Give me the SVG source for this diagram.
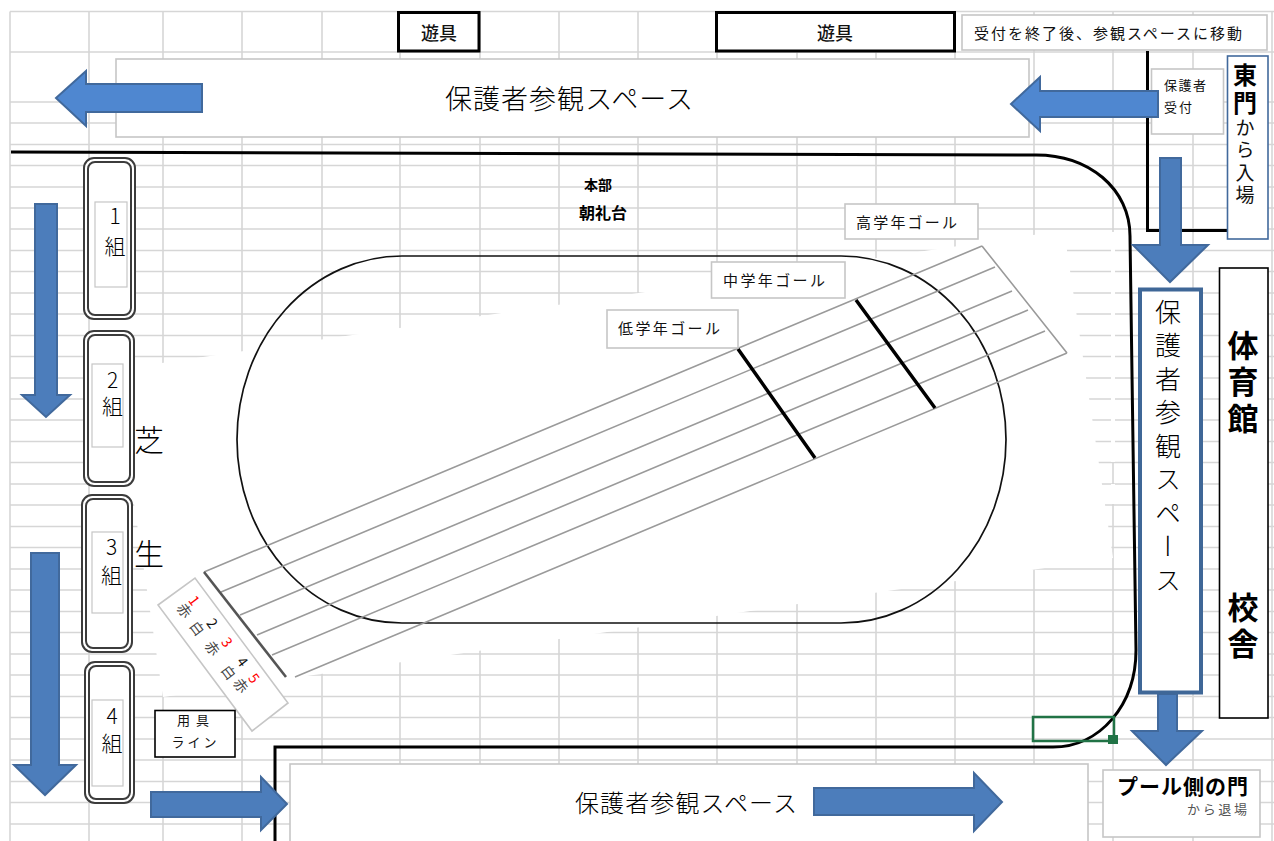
<svg xmlns="http://www.w3.org/2000/svg" width="1274" height="841" viewBox="0 0 1274 841">
<style>
text{font-family:"Noto Sans CJK JP","Noto Sans",sans-serif;fill:#111;dominant-baseline:central}
.m{text-anchor:middle}
.b{font-weight:700;fill:#000}
.t{font-weight:300;fill:#000}
.v{writing-mode:vertical-rl;text-anchor:start}
.u{text-orientation:upright}
.grid{stroke:#d6d6d6;stroke-width:1.6;fill:none}
.lb{fill:#fff;stroke:#c6c6c6;stroke-width:1.6}
.bk{fill:#fff;stroke:#000}
.ar{fill:#4c7dbb;stroke:#41699c;stroke-width:2}
.ar2{fill:#4f87d0;stroke:#41699c;stroke-width:2}
.oc{fill:#fff;stroke:#3c3c3c;stroke-width:2}
.ic{fill:none;stroke:#3c3c3c;stroke-width:2}
.road{fill:none;stroke:#000;stroke-width:3}
.lane{stroke:#9a9a9a;stroke-width:1.6;fill:none}
.goal{stroke:#000;stroke-width:3.5;fill:none}
.ln{font-size:14px;text-anchor:middle}
.rd{fill:#f00}
.gy{fill:#444}
</style>
<rect width="1274" height="841" fill="#fff"/>
<path id="grid" class="grid" d="M10 11.5H1274M10 52H1274M10 102H1274M10 123H1274M10 144.5H1274M10 165.5H1274M10 187H1274M10 208H1274M10 229H1274M10 250.5H1274M10 271.5H1274M10 293H1274M10 314H1274M10 335.5H1274M10 356.5H1274M10 378H1274M10 399H1274M10 420H1274M10 441.5H1274M10 462.5H1274M10 484H1274M10 505H1274M10 526.5H1274M10 547.5H1274M10 569H1274M10 590H1274M10 611.5H1274M10 632.5H1274M10 654H1274M10 675H1274M10 696.5H1274M10 717.5H1274M10 739H1274M10 760H1274M10 781.5H1274M10 802.5H1274M10 824H1274M10 11.5V841M89 11.5V841M163 11.5V841M242 11.5V841M322 11.5V841M400 11.5V841M480 11.5V841M559 11.5V841M638 11.5V841M717 11.5V841M797 11.5V841M876 11.5V841M955 11.5V841M1034 11.5V841M1113 11.5V841M1193 11.5V841M1272 11.5V841"/>
<g id="mask" fill="#fff">
<polygon points="114,370 1064,230.5 1113,558 163,697"/>
<rect x="1111" y="232" width="4" height="230"/>
<rect x="1111" y="484" width="4" height="20"/>
</g>
<g id="track">
<rect x="237" y="256" width="769" height="367" rx="165" ry="183.5" fill="none" stroke="#111" stroke-width="1.7"/>
<path class="lane" d="M204 572L982 246M221 592L995 267M240 615L1012 291M257 635L1028 310M272 655L1045 331M295 677L1067 353M982 246L1067 353"/>
<path d="M204 572L286 677" fill="none" stroke="#555" stroke-width="2.6"/>
<path class="goal" d="M738 349L815 458M856 300L935 408"/>
</g>
<g id="connectors">
<path class="road" d="M11 152L1031 155C1090 153 1130 190 1130 236L1136 650C1136 705 1100 747 1053 747L275 747V841"/>
<path class="road" d="M1147.500 51V230.500H1228"/>
</g>
<g id="space-top"><rect class="lb" x="116" y="59" width="913" height="78"/><text class="m t" x="569" y="97" font-size="27" textLength="248">保護者参観スペース</text></g>
<g id="space-bottom"><rect class="lb" x="290" y="764" width="798" height="80"/><text class="m t" x="686" y="801" font-size="24" textLength="222">保護者参観スペース</text></g>
<g id="playground-1"><rect class="bk" x="398.500" y="12.500" width="80.500" height="38.500" stroke-width="3"/><text class="m" x="439" y="32" font-size="18" style="font-weight:500">遊具</text></g>
<g id="playground-2"><rect class="bk" x="716.500" y="12.500" width="238" height="38.500" stroke-width="3"/><text class="m" x="835" y="32" font-size="18" style="font-weight:500">遊具</text></g>
<g id="note"><rect class="lb" x="962" y="15" width="305" height="35"/><text x="974" y="32" font-size="15" textLength="268">受付を終了後、参観スペースに移動</text></g>
<g id="reception"><rect class="lb" x="1151.500" y="69" width="72" height="65"/><text x="1164" y="84" font-size="13" textLength="42">保護者</text><text x="1164" y="106" font-size="13" textLength="28">受付</text></g>
<g id="east-gate"><rect x="1227.500" y="56" width="40.500" height="183" fill="#fff" stroke="#41699c" stroke-width="1.600"/>
<text class="v" x="1245" y="63" font-size="19" letter-spacing="3.500"><tspan class="b" font-size="24">東門</tspan>から入場</text></g>
<g id="honbu"><text class="m b" x="598" y="184" font-size="14">本部</text><text class="m b" x="603" y="212" font-size="16">朝礼台</text></g>
<g id="goal-high"><rect class="lb" x="845" y="204" width="133" height="35"/><text x="856" y="221" font-size="15" textLength="101">高学年ゴール</text></g>
<g id="goal-mid"><rect class="lb" x="711.500" y="262" width="133.500" height="36"/><text x="723" y="279" font-size="15" textLength="102">中学年ゴール</text></g>
<g id="goal-low"><rect class="lb" x="607" y="310" width="131" height="38"/><text x="618" y="327" font-size="15" textLength="102">低学年ゴール</text></g>
<g id="class-1"><rect class="oc" x="84" y="158" width="51" height="161" rx="10"/><rect class="ic" x="88" y="162" width="43" height="153" rx="7"/><rect class="lb" x="95" y="202" width="32" height="85" style="stroke-width:1.2"/><text class="v u t" x="115" y="206" font-size="21" letter-spacing="9">1組</text></g>
<g id="class-2"><rect class="oc" x="84" y="331" width="50" height="155" rx="10"/><rect class="ic" x="88" y="335" width="42" height="147" rx="7"/><rect class="lb" x="92" y="364" width="31" height="83" style="stroke-width:1.2"/><text class="v u t" x="112.500" y="370" font-size="21" letter-spacing="5">2組</text></g>
<g id="class-3"><rect class="oc" x="82" y="495" width="50" height="157" rx="10"/><rect class="ic" x="86" y="499" width="42" height="149" rx="7"/><rect class="lb" x="92" y="532" width="31" height="81" style="stroke-width:1.2"/><text class="v u t" x="111.500" y="537" font-size="21" letter-spacing="7">3組</text></g>
<g id="class-4"><rect class="oc" x="85" y="662" width="49" height="141" rx="10"/><rect class="ic" x="89" y="666" width="41" height="133" rx="7"/><rect class="lb" x="92" y="700" width="31" height="86" style="stroke-width:1.2"/><text class="v u t" x="112" y="706" font-size="21" letter-spacing="6">4組</text></g>
<g id="lawn"><text class="m t" x="149" y="438" font-size="30">芝</text><text class="m t" x="149" y="552" font-size="30">生</text></g>
<g id="lane-numbers"><polygon class="lb" points="158,605 195,578 288,703 252,731"/>
<text class="ln" transform="translate(185 610) rotate(53)"><tspan class="rd" x="-2" y="-14">1</tspan><tspan class="gy" x="0" y="0">赤</tspan><tspan x="27" y="-14.500">2</tspan><tspan class="gy" x="22" y="0.500">白</tspan><tspan class="rd" x="51" y="-15">3</tspan><tspan class="gy" x="47" y="0.500">赤</tspan><tspan x="76" y="-15.500">4</tspan><tspan class="gy" x="76" y="2">白</tspan><tspan class="rd" x="96" y="-15">5</tspan><tspan class="gy" x="94" y="0">赤</tspan></text></g>
<g id="equipment"><rect class="bk" x="155" y="710.500" width="80" height="46.500" stroke-width="1.600"/><text class="m" x="193" y="719" font-size="13" textLength="32">用具</text><text class="m" x="194" y="741" font-size="13" textLength="45">ライン</text></g>
<g id="gym"><rect class="bk" x="1219.500" y="268" width="48.500" height="450" stroke-width="1.600"/><text class="v b" x="1243" y="329.500" font-size="31" letter-spacing="5.500">体育館</text><text class="v b" x="1243" y="591.500" font-size="31" letter-spacing="5.500">校舎</text></g>
<g id="selected-cell"><rect x="1033" y="717" width="81" height="24" fill="none" stroke="#217346" stroke-width="2.500"/><rect x="1108" y="735" width="10" height="9" fill="#217346"/></g>
<g id="pool-gate"><rect class="lb" x="1103" y="770" width="157" height="67"/><text class="b" x="1117" y="785" font-size="21" textLength="131">プール側の門</text><text x="1187" y="808" font-size="13" textLength="60" style="fill:#555">から退場</text></g>
<g id="arrows">
<polygon class="ar2" points="56,98 86,71 86,84 202,84 202,112 86,112 86,126"/>
<polygon class="ar2" points="1011,104 1040,77 1040,91 1158,91 1158,117 1040,117 1040,131"/>
<polygon class="ar" points="1160,158 1181,158 1181,245 1208,245 1170,282 1133,245 1160,245"/>
<polygon class="ar" points="35,204 57,204 57,395 70,395 46,417 22,395 35,395"/>
<polygon class="ar" points="31,553 59,553 59,765 76,765 45,795 14,765 31,765"/>
<polygon class="ar" points="151,792 261,792 261,777 287,804 261,830 261,817 151,817"/>
<polygon class="ar" points="814,788 974,788 974,773 1002,802 974,831 974,815 814,815"/>
<polygon class="ar" points="1158,694 1177,694 1177,731 1202,731 1166,765 1132,731 1158,731"/>
</g>
<g id="space-right"><rect x="1140" y="289.500" width="61" height="403" fill="#fff" stroke="#3f6797" stroke-width="4"/>
<text class="v t" x="1168" y="299" font-size="26" letter-spacing="7.500">保護者参観スペース</text></g>
</svg>
